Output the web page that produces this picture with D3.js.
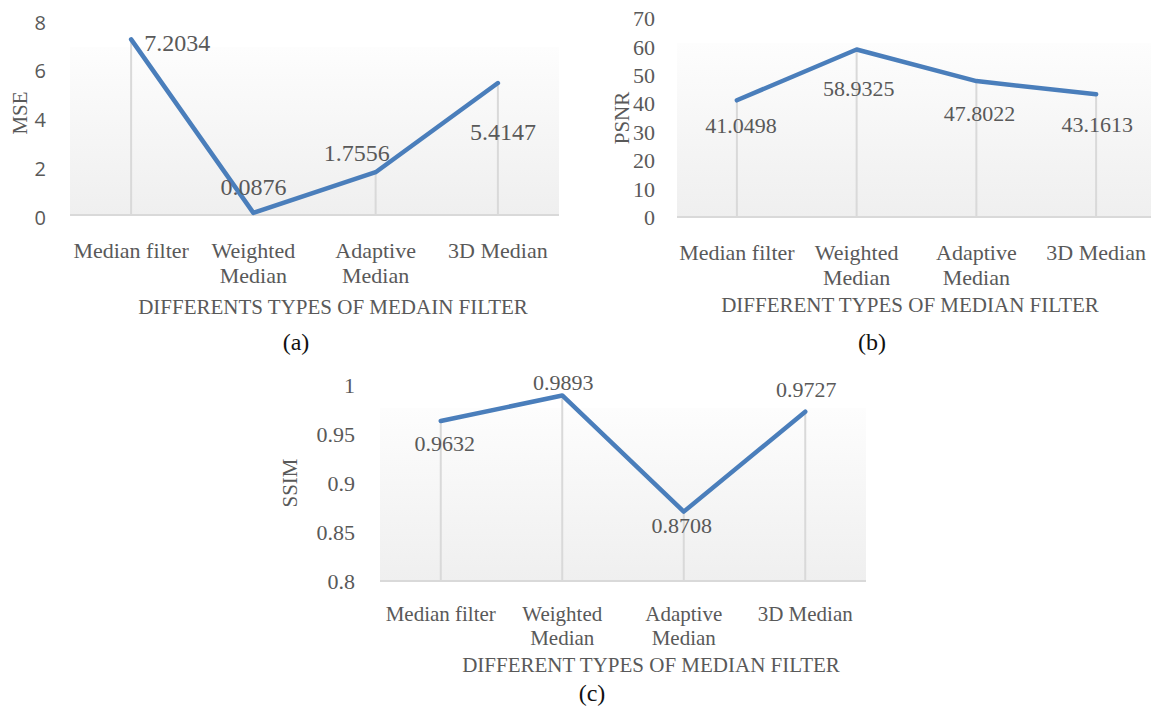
<!DOCTYPE html>
<html>
<head>
<meta charset="utf-8">
<script src="https://cdn.jsdelivr.net/npm/d3@7"></script>
<style>
  html, body { margin: 0; padding: 0; background: #ffffff; }
  svg { display: block; }
</style>
</head>
<body>
<svg id="chart" width="1151" height="707"></svg>
<script>
// Filter categories (line breaks are shown where "|" appears)
const categories = ["Median filter", "Weighted|Median", "Adaptive|Median", "3D Median"];

// Quality metrics per filter
const mseValues  = [7.2034, 0.0876, 1.7556, 5.4147];
const psnrValues = [41.0498, 58.9325, 47.8022, 43.1613];
const ssimValues = [0.9632, 0.9893, 0.8708, 0.9727];

// Axis tick labels
const mseTicks  = [0, 2, 4, 6, 8];
const psnrTicks = [0, 10, 20, 30, 40, 50, 60, 70];
const ssimTicks = [0.8, 0.85, 0.9, 0.95, 1];

const svg = d3.select("#chart");
const TEXT = "#595959";
const LINE = "#4a7ebb";
const GRID = "#d9d9d9";
const SERIF = "'Liberation Serif', 'Times New Roman', serif";
const SANS = "'Open Sans', 'Liberation Sans', sans-serif";

// Shared plot-area gradient
const defs = svg.append("defs");
const grad = defs.append("linearGradient")
  .attr("id", "plotFill").attr("x1", 0).attr("y1", 0).attr("x2", 0).attr("y2", 1);
grad.append("stop").attr("offset", "0%").attr("stop-color", "#fdfdfd");
grad.append("stop").attr("offset", "100%").attr("stop-color", "#efefef");

function drawPanel(p) {
  const g = svg.append("g");
  const x = d3.scalePoint().domain(categories).range([p.left, p.right]).padding(0.5);
  const y = d3.scaleLinear().domain(p.domain).range([p.bottom, p.top]);

  // plot background
  g.append("rect")
    .attr("x", p.left).attr("y", p.fillTop)
    .attr("width", p.right - p.left).attr("height", p.bottom - p.fillTop)
    .attr("fill", "url(#plotFill)");

  // drop lines from each point to the baseline
  g.selectAll(".drop").data(p.values).join("line")
    .attr("x1", (d, i) => x(categories[i])).attr("x2", (d, i) => x(categories[i]))
    .attr("y1", d => y(d)).attr("y2", p.bottom)
    .attr("stroke", GRID).attr("stroke-width", 2);

  // baseline
  g.append("line")
    .attr("x1", p.left).attr("x2", p.right)
    .attr("y1", p.bottom).attr("y2", p.bottom)
    .attr("stroke", GRID).attr("stroke-width", 2);

  // y axis
  const yAxis = d3.axisLeft(y).tickValues(p.ticks).tickSize(0).tickPadding(0)
    .tickFormat(d => String(d));
  const ya = g.append("g").attr("transform", `translate(${p.tickX},0)`).call(yAxis);
  ya.select(".domain").remove();
  ya.selectAll("text")
    .attr("fill", TEXT)
    .attr("font-family", p.tickFont)
    .attr("font-size", p.tickSize)
    .attr("text-anchor", p.tickAnchor)
    .attr("dy", p.tickDy);

  // y axis title
  g.append("text")
    .attr("transform", `translate(${p.yTitleX},${p.yTitleY}) rotate(-90)`)
    .attr("text-anchor", "middle").attr("dy", "0.35em")
    .attr("font-family", SERIF).attr("font-size", 21).attr("fill", TEXT)
    .text(p.yTitle);

  // series line
  const line = d3.line().x((d, i) => x(categories[i])).y(d => y(d));
  g.append("path").datum(p.values)
    .attr("d", line).attr("fill", "none")
    .attr("stroke", LINE).attr("stroke-width", 4.5)
    .attr("stroke-linejoin", "round").attr("stroke-linecap", "round");

  // value labels
  g.selectAll(".val").data(p.values).join("text")
    .attr("x", (d, i) => x(categories[i]) + p.labelOffsets[i][0])
    .attr("y", (d, i) => y(d) + p.labelOffsets[i][1])
    .attr("dy", "0.35em")
    .attr("text-anchor", (d, i) => p.labelOffsets[i][2] || "middle")
    .attr("font-family", SERIF).attr("font-size", p.labelSize).attr("fill", TEXT)
    .text(d => String(d));

  // category labels
  categories.forEach(c => {
    const t = g.append("text")
      .attr("text-anchor", "middle")
      .attr("font-family", SERIF).attr("font-size", p.catSize).attr("fill", TEXT);
    c.split("|").forEach((part, k) => {
      t.append("tspan").attr("x", x(c)).attr("y", p.catY + k * p.catGap)
        .attr("dy", "0.35em").text(part);
    });
  });

  // x axis title
  g.append("text")
    .attr("x", p.xTitleX).attr("y", p.xTitleY).attr("dy", "0.35em")
    .attr("text-anchor", "middle")
    .attr("font-family", SERIF).attr("font-size", p.xTitleSize).attr("fill", TEXT)
    .text(p.xTitle);

  // panel caption
  g.append("text")
    .attr("x", p.capX).attr("y", p.capY).attr("dy", "0.35em")
    .attr("text-anchor", "middle")
    .attr("font-family", SERIF).attr("font-size", 24).attr("fill", "#111111")
    .text(p.caption);
}

drawPanel({
  values: mseValues, ticks: mseTicks, domain: [0, 8],
  left: 70, right: 559, top: 20, bottom: 215, fillTop: 47,
  tickX: 46, tickFont: SANS, tickSize: 20, tickAnchor: "end", tickDy: "0.45em",
  yTitle: "MSE", yTitleX: 20, yTitleY: 113,
  labelSize: 24,
  labelOffsets: [[13, 3, "start"], [0, -26], [-19, -20], [5, 49]],
  catSize: 22, catY: 250, catGap: 25,
  xTitle: "DIFFERENTS TYPES OF MEDAIN FILTER", xTitleSize: 21, xTitleX: 333, xTitleY: 307,
  caption: "(a)", capX: 296, capY: 342
});

drawPanel({
  values: psnrValues, ticks: psnrTicks, domain: [0, 70],
  left: 677, right: 1156, top: 18, bottom: 217, fillTop: 43,
  tickX: 655, tickFont: SERIF, tickSize: 22, tickAnchor: "end", tickDy: "0.35em",
  yTitle: "PSNR", yTitleX: 622, yTitleY: 118,
  labelSize: 22,
  labelOffsets: [[4, 25], [2, 39], [3, 32], [1, 30]],
  catSize: 22, catY: 252, catGap: 25,
  xTitle: "DIFFERENT TYPES OF MEDIAN FILTER", xTitleSize: 21, xTitleX: 910, xTitleY: 305,
  caption: "(b)", capX: 872, capY: 342
});

drawPanel({
  values: ssimValues, ticks: ssimTicks, domain: [0.8, 1],
  left: 380, right: 866, top: 385, bottom: 581, fillTop: 408,
  tickX: 355, tickFont: SERIF, tickSize: 22, tickAnchor: "end", tickDy: "0.35em",
  yTitle: "SSIM", yTitleX: 290, yTitleY: 483,
  labelSize: 22,
  labelOffsets: [[4, 22], [1, -13], [-2, 14], [1, -22]],
  catSize: 21, catY: 614, catGap: 24,
  xTitle: "DIFFERENT TYPES OF MEDIAN FILTER", xTitleSize: 21, xTitleX: 651, xTitleY: 665,
  caption: "(c)", capX: 592, capY: 693
});
</script>
</body>
</html>
